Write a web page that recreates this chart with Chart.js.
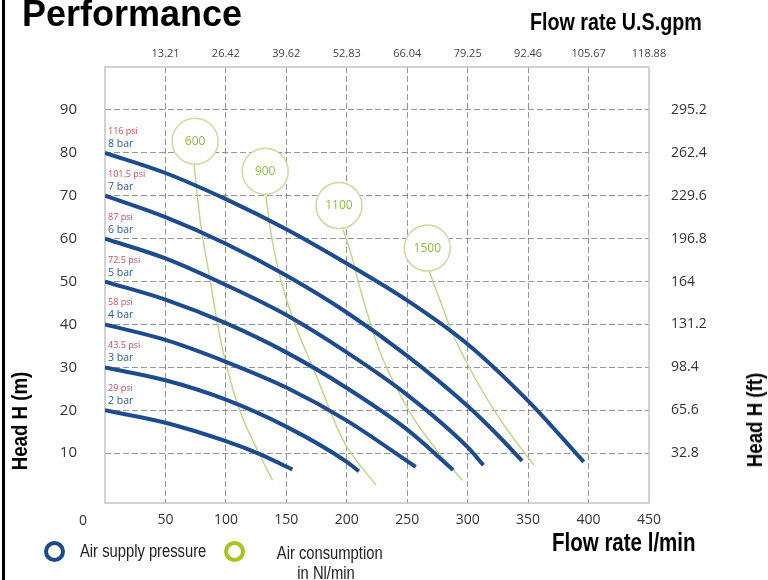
<!DOCTYPE html>
<html>
<head>
<meta charset="utf-8">
<script src="https://cdn.jsdelivr.net/npm/chart.js@4.4.1/dist/chart.umd.min.js"></script>
<style>
    body { margin: 0; background: #fff; width: 768px; height: 580px; position: relative; overflow: hidden; }
    #chart { position: absolute; left: 0; top: 0; }
    .edge { position: absolute; left: 2px; top: 0; width: 3px; height: 580px; background: #000; }
    .title { position: absolute; left: 22px; top: -4px; font: bold 36px/36px 'Liberation Sans', Arial, sans-serif; white-space: nowrap; }
    .axt { position: absolute; font: bold 24px/24px 'Liberation Sans', Arial, sans-serif; white-space: nowrap; transform: scaleX(0.82); transform-origin: left top; }
    .rot { position: absolute; transform: translate(-50%, -50%) rotate(-90deg) scaleX(0.85); font: bold 22px/22px 'Liberation Sans', Arial, sans-serif; white-space: nowrap; }
    .ring { position: absolute; width: 13px; height: 13px; border-radius: 50%; border: 4.5px solid; }
    .leg { position: absolute; font: 18px/20px 'Liberation Sans', Arial, sans-serif; color: #222; white-space: nowrap; transform: scaleX(0.82); }
</style>
</head>
<body>
<canvas id="chart" width="768" height="580"></canvas>
<div class="edge"></div>
<div class="title">Performance</div>
<div class="axt" style="left:530px; top:10px;">Flow rate U.S.gpm</div>
<div class="axt" style="left:552px; top:530px; font-size:25px; line-height:25px;">Flow rate l/min</div>
<div class="rot" style="left:20px; top:421px;">Head H (m)</div>
<div class="rot" style="left:755px; top:420px;">Head H (ft)</div>
<div class="ring" style="left:44px; top:541px; border-color:#1b4a8c;"></div>
<div class="leg" style="left:80px; top:541px; transform-origin:left top;">Air supply pressure</div>
<div class="ring" style="left:224px; top:541px; border-color:#a9c41c;"></div>
<div class="leg" style="left:266px; top:543px; width:120px; text-align:center; transform-origin:center top;">Air consumption<br>in Nl/min</div>
<script>
// axes
const flowTicks = [0, 50, 100, 150, 200, 250, 300, 350, 400, 450];
const gpmTicks = [50, 100, 150, 200, 250, 300, 350, 400, 450];
const gpmLabels = ['13.21', '26.42', '39.62', '52.83', '66.04', '79.25', '92.46', '105.67', '118.88'];
const headTicks = [10, 20, 30, 40, 50, 60, 70, 80, 90];
const ftLabels = ['32.8', '65.6', '98.4', '131.2', '164', '196.8', '229.6', '262.4', '295.2'];

// air supply pressure curves (flow l/min, head m)
const barLabels = ['2 bar', '3 bar', '4 bar', '5 bar', '6 bar', '7 bar', '8 bar'];
const psiLabels = ['29 psi', '43.5 psi', '58 psi', '72.5 psi', '87 psi', '101.5 psi', '116 psi'];
const flow2bar = [0, 50, 100, 128, 155];
const head2bar = [20, 17.1, 12.8, 9.8, 6.2];
const flow3bar = [0, 50, 100, 150, 200, 210];
const head3bar = [30, 27, 22.5, 16.2, 8, 5.8];
const flow4bar = [0, 50, 100, 150, 200, 257];
const head4bar = [40, 36.4, 31.3, 25.3, 17.6, 6.8];
const flow5bar = [0, 50, 100, 150, 200, 250, 288];
const head5bar = [50, 45.8, 40.3, 33.5, 25.2, 15.5, 6.1];
const flow6bar = [0, 50, 100, 150, 200, 250, 300, 313];
const head6bar = [60, 55.4, 49.2, 42.2, 33.5, 23.6, 11.4, 7.2];
const flow7bar = [0, 50, 100, 150, 200, 250, 300, 327, 345];
const head7bar = [70, 65, 58.8, 51.4, 42.8, 32.7, 21, 13.6, 8.2];
const flow8bar = [0, 50, 100, 150, 200, 250, 300, 350, 396];
const head8bar = [80, 75.3, 69.2, 62.2, 54.2, 45.6, 35.4, 22.2, 8];

// air consumption curves (Nl/min)
const airLabels = ['600', '900', '1100', '1500'];
const airFlow = [74.5, 132.5, 193.5, 266.6];
const airHead = [82.7, 75.7, 67.7, 57.8];
const flow600 = [73.5, 79, 86, 95.6, 109.4, 127.3, 138.6];
const head600 = [77.5, 63.6, 51.9, 36.4, 21.6, 10, 3.7];
const flow900 = [133, 138, 147.7, 160, 174, 197, 224];
const head900 = [70, 60, 48.1, 38, 28.6, 13, 2.6];
const flow1100 = [197, 205, 211.3, 227.9, 252.8, 275, 295.6];
const head1100 = [62, 55, 48.1, 33.3, 19.3, 10.5, 3.7];
const flow1500 = [268, 278, 287.3, 302.4, 327.2, 354.8];
const head1500 = [52.5, 45, 38, 29.4, 17.7, 7.2];

const pressureCurves = [
    [flow2bar, head2bar], [flow3bar, head3bar], [flow4bar, head4bar], [flow5bar, head5bar],
    [flow6bar, head6bar], [flow7bar, head7bar], [flow8bar, head8bar]
];
const airCurves = [[flow600, head600], [flow900, head900], [flow1100, head1100], [flow1500, head1500]];

const toPoints = (xs, ys) => xs.map((v, i) => ({ x: v, y: ys[i] }));
const gridColor = 'rgba(105,105,105,0.7)';

const datasets = [];
pressureCurves.forEach(([f, h], i) => {
    datasets.push({
        label: barLabels[i],
        data: toPoints(f, h),
        borderColor: '#1c4b90',
        borderWidth: 4,
        pointRadius: 0,
        cubicInterpolationMode: 'monotone',
        order: 1
    });
});
airCurves.forEach(([f, h], i) => {
    datasets.push({
        label: airLabels[i],
        data: toPoints(f, h),
        borderColor: '#bfd585',
        borderWidth: 1.4,
        pointRadius: 0,
        cubicInterpolationMode: 'monotone',
        order: 2
    });
});
datasets.push({
    label: 'air',
    data: toPoints(airFlow, airHead),
    showLine: false,
    pointRadius: 23,
    pointBackgroundColor: '#fff',
    pointBorderColor: '#c9dca2',
    pointBorderWidth: 1.5,
    order: 0
});

const overlay = {
    id: 'overlay',
    beforeDatasetsDraw(chart) {
        const { ctx, chartArea: a } = chart;
        ctx.save();
        ctx.strokeStyle = '#c4c4c4';
        ctx.lineWidth = 1.5;
        ctx.strokeRect(a.left, a.top, a.right - a.left, a.bottom - a.top);
        ctx.restore();
    },
    afterDatasetsDraw(chart) {
        const { ctx, scales: { x, y } } = chart;
        ctx.save();
        pressureCurves.forEach(([f, h], i) => {
            const px = x.getPixelForValue(0) + 3;
            const py = y.getPixelForValue(h[0]);
            ctx.font = '9px "Open Sans"';
            ctx.fillStyle = '#d8485a';
            ctx.fillText(psiLabels[i], px, py - 19);
            ctx.font = '10.5px "Open Sans"';
            ctx.fillStyle = '#2d5a9e';
            ctx.fillText(barLabels[i], px, py - 6);
        });
        ctx.font = '12px "Open Sans"';
        ctx.fillStyle = '#8cbf3f';
        ctx.textAlign = 'center';
        ctx.textBaseline = 'middle';
        airFlow.forEach((f, i) => {
            ctx.fillText(airLabels[i], x.getPixelForValue(f), y.getPixelForValue(airHead[i]));
        });
        ctx.font = '14px "Open Sans"';
        ctx.fillStyle = '#333';
        ctx.fillText('0', 83, 521);
        ctx.restore();
    }
};

new Chart(document.getElementById('chart'), {
    type: 'line',
    data: { datasets },
    plugins: [overlay],
    options: {
        responsive: false,
        animation: false,
        events: [],
        layout: { padding: 0 },
        plugins: { legend: { display: false }, tooltip: { enabled: false } },
        scales: {
            x: {
                type: 'linear', position: 'bottom', min: 0, max: 450,
                afterBuildTicks: s => { s.ticks = flowTicks.map(v => ({ value: v })); },
                afterFit: s => { s.height = 77; },
                ticks: { callback: v => (v === 0 ? '' : v), font: { family: 'Open Sans', size: 14 }, color: '#333', padding: 9, maxRotation: 0, autoSkip: false },
                grid: { color: c => (c.tick && (c.tick.value === 0 || c.tick.value === 450) ? 'transparent' : gridColor), drawTicks: false },
                border: { display: false, dash: [6, 3] }
            },
            x2: {
                type: 'linear', axis: 'x', position: 'top', min: 0, max: 450,
                afterBuildTicks: s => { s.ticks = gpmTicks.map(v => ({ value: v })); },
                afterFit: s => { s.height = 67; },
                ticks: { callback: v => gpmLabels[gpmTicks.indexOf(v)], font: { family: 'Open Sans', size: 11 }, color: '#444', padding: 7, maxRotation: 0, autoSkip: false },
                grid: { display: false, drawTicks: false },
                border: { display: false }
            },
            y: {
                type: 'linear', position: 'left', min: -1.6, max: 100,
                afterBuildTicks: s => { s.ticks = headTicks.map(v => ({ value: v })); },
                afterFit: s => { s.width = 105; },
                ticks: { font: { family: 'Open Sans', size: 15 }, color: '#333', padding: 28 },
                grid: { color: gridColor, drawTicks: false },
                border: { display: false, dash: [6, 3] }
            },
            y2: {
                type: 'linear', axis: 'y', position: 'right', min: -1.6, max: 100,
                afterBuildTicks: s => { s.ticks = headTicks.map(v => ({ value: v })); },
                afterFit: s => { s.width = 119; },
                ticks: { callback: v => ftLabels[headTicks.indexOf(v)], font: { family: 'Open Sans', size: 14 }, color: '#333', padding: 22 },
                grid: { display: false, drawTicks: false },
                border: { display: false }
            }
        }
    }
});
</script>
</body>
</html>
